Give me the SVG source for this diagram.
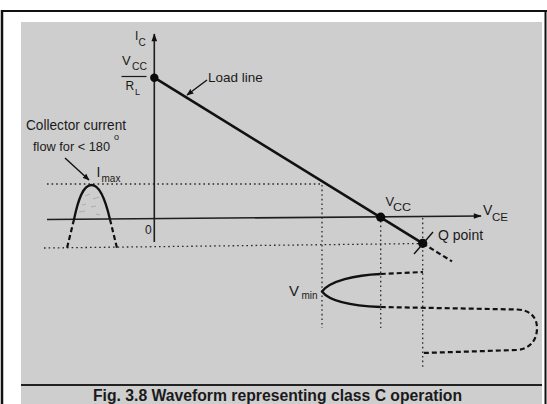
<svg xmlns="http://www.w3.org/2000/svg" width="547" height="404" viewBox="0 0 547 404">
  <style>
    text { font-family: "Liberation Sans", Arial, sans-serif; fill: #1a1a1a; }
    .lbl { font-size: 14px; }
    .sub { font-size: 11px; }
    .axis { stroke: #1e1e1e; stroke-width: 1.6; fill: none; }
    .dot { stroke: #2a2a2a; stroke-width: 1.3; stroke-dasharray: 1.6 3; fill: none; }
    .wave { stroke: #111; stroke-width: 2.3; fill: none; }
    .dash { stroke: #111; stroke-width: 2.2; stroke-dasharray: 5 3; fill: none; }
    .pt { fill: #0a0a0a; }
    .ptr { stroke: #111; stroke-width: 1.4; fill: none; }
  </style>
  <defs>
    <marker id="ah" viewBox="0 0 10 10" refX="9" refY="5" markerWidth="7" markerHeight="7" orient="auto" markerUnits="userSpaceOnUse">
      <path d="M0,1 L10,5 L0,9 Z" fill="#111"/>
    </marker>
    <marker id="axh" viewBox="0 0 10 10" refX="9" refY="5" markerWidth="10" markerHeight="8" orient="auto" markerUnits="userSpaceOnUse">
      <path d="M0,1.5 L10,5 L0,8.5 Z" fill="#111"/>
    </marker>
  </defs>

  <!-- page frame -->
  <rect x="0" y="0" width="547" height="404" fill="#ffffff"/>
  <rect x="21" y="22" width="521" height="382" fill="#cecece"/>
  <path d="M2,11 H547" stroke="#111" stroke-width="2.2"/>
  <path d="M2,10 V404" stroke="#111" stroke-width="2.5"/>
  <path d="M545.5,10 V404" stroke="#111" stroke-width="2"/>
  <path d="M21,385 H542" stroke="#222" stroke-width="1.8"/>

  <!-- guide lines (dotted) -->
  <g id="guides">
    <path class="dot" d="M47,184 H322"/>
    <path class="dot" d="M44,248 L423,243.5"/>
    <path class="dot" d="M322,185 V328"/>
    <path class="dot" d="M380.7,221 V328"/>
    <path class="dot" d="M422.7,218 V368"/>
  </g>

  <!-- axes -->
  <g id="axes">
    <path class="axis" d="M154.3,242 V34" marker-end="url(#axh)"/>
    <path class="axis" d="M47,219.5 L481,216" marker-end="url(#axh)"/>
    <text x="145" y="234" style="font-size:12px">0</text>
    <text x="135" y="40" style="font-size:12px">I</text>
    <text x="138.5" y="45.5" style="font-size:10px">C</text>
    <text x="483" y="215" class="lbl">V</text>
    <text x="492" y="221" class="sub" textLength="16" lengthAdjust="spacingAndGlyphs">CE</text>
  </g>

  <!-- load line -->
  <g id="load-line">
    <path d="M154.3,77.7 L422.7,243.3" stroke="#111" stroke-width="2.6" fill="none"/>
    <path class="dash" d="M422.7,243.3 L452,261.4"/>
    <path class="ptr" d="M207,80 L187,95" marker-end="url(#ah)"/>
    <text x="208" y="81.7" style="font-size:13.5px">Load line</text>
  </g>

  <!-- Vcc/RL point -->
  <g id="point-vcc-rl">
    <circle class="pt" cx="154.3" cy="77.7" r="4.2"/>
    <text x="122" y="65" style="font-size:13px">V</text>
    <text x="132" y="69.5" style="font-size:10.5px" textLength="15" lengthAdjust="spacingAndGlyphs">CC</text>
    <path d="M121.5,76.5 H146.5" stroke="#1a1a1a" stroke-width="1.2"/>
    <text x="125.5" y="90" style="font-size:12px">R</text>
    <text x="135" y="95" style="font-size:9px">L</text>
  </g>

  <!-- Vcc point -->
  <g id="point-vcc">
    <circle class="pt" cx="380.7" cy="217.2" r="4.6"/>
    <text x="385.5" y="206" style="font-size:13px">V</text>
    <text x="393" y="211" class="sub" textLength="18" lengthAdjust="spacingAndGlyphs">CC</text>
  </g>

  <!-- Q point -->
  <g id="point-q">
    <circle class="pt" cx="422.7" cy="243.3" r="4.6"/>
    <path class="ptr" d="M414,254 L433,232"/>
    <text x="438" y="240" class="lbl">Q point</text>
  </g>

  <!-- collector current pulse -->
  <g id="current-pulse">
    <path class="wave" d="M74,219.5 C78,200 83,185 91.5,185 C100,185 105.5,200 110,219.5"/>
    <path class="dash" d="M74,219.5 L67,248"/>
    <path class="dash" d="M110,219.5 L117,248"/>
    <g stroke="#8a8a8a" stroke-width="0.7" opacity="0.7">
      <path d="M85,196 l5,-2"/><path d="M93,199 l6,-2"/><path d="M82,205 l4,-1"/>
      <path d="M91,207 l5,-1"/><path d="M79,212 l6,-1"/><path d="M96,214 l4,1"/>
    </g>
    <text x="96.5" y="176.5" class="lbl">I</text>
    <text x="101.5" y="181.5" style="font-size:10px">max</text>
    <text x="26" y="130" class="lbl" textLength="100" lengthAdjust="spacingAndGlyphs">Collector current</text>
    <text x="33" y="151" style="font-size:13px" textLength="77" lengthAdjust="spacingAndGlyphs">flow for &lt; 180</text>
    <text x="114" y="140" style="font-size:9px">o</text>
    <path class="ptr" d="M65,158 L89,180" marker-end="url(#ah)"/>
  </g>

  <!-- Vce waveform -->
  <g id="vce-wave">
    <path class="wave" d="M380.7,274 C355,275 330,281 322,291.5 C330,302 355,306 380.7,307"/>
    <path class="dash" d="M380.7,274 L423,272"/>
    <path class="dash" d="M380.7,307 L517,309.5 C531,310 537,318 537,328 C537,340 530,349 517,350 L423,353"/>
    <text x="289" y="296" style="font-size:15px">V</text>
    <text x="301.5" y="298.5" style="font-size:10px">min</text>
  </g>

  <!-- caption -->
  <text x="277.5" y="401" style="font-size:16px;font-weight:bold" text-anchor="middle" textLength="369" lengthAdjust="spacingAndGlyphs">Fig. 3.8 Waveform representing class C operation</text>
</svg>
